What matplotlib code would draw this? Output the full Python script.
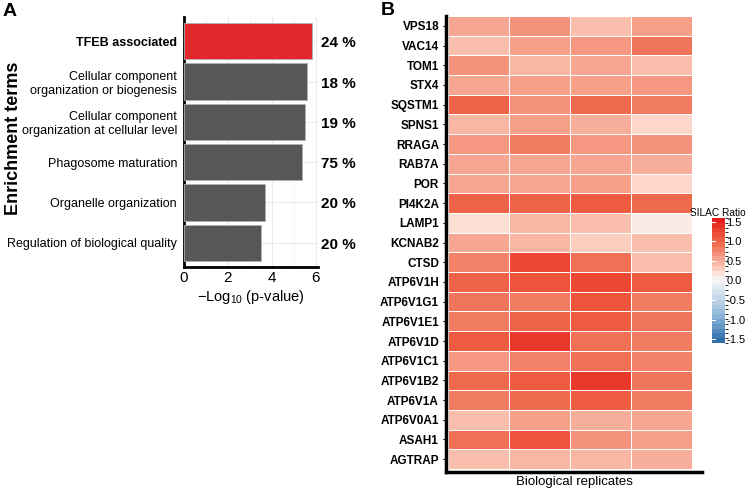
import numpy as np
import matplotlib
matplotlib.use("Agg")
import matplotlib.pyplot as plt
from matplotlib.colors import LinearSegmentedColormap, BoundaryNorm, Normalize
from matplotlib.cm import ScalarMappable
import matplotlib.transforms as mtransforms

plt.rcParams['font.family'] = ['Liberation Sans', 'DejaVu Sans']

# ---------------- Data ----------------
terms = ["TFEB associated",
         "Cellular component\norganization or biogenesis",
         "Cellular component\norganization at cellular level",
         "Phagosome maturation",
         "Organelle organization",
         "Regulation of biological quality"]
neglog10_p = [5.82, 5.59, 5.50, 5.38, 3.70, 3.50]
percent = [24, 18, 19, 75, 20, 20]

genes = ["VPS18", "VAC14", "TOM1", "STX4", "SQSTM1", "SPNS1", "RRAGA", "RAB7A",
         "POR", "PI4K2A", "LAMP1", "KCNAB2", "CTSD", "ATP6V1H", "ATP6V1G1",
         "ATP6V1E1", "ATP6V1D", "ATP6V1C1", "ATP6V1B2", "ATP6V1A", "ATP6V0A1",
         "ASAH1", "AGTRAP"]
rep1 = [0.55, 0.40, 0.70, 0.55, 1.05, 0.45, 0.65, 0.55, 0.55, 1.05, 0.20, 0.55,
        0.80, 1.05, 0.90, 0.85, 1.10, 0.65, 1.00, 0.85, 0.40, 0.95, 0.40]
rep2 = [0.70, 0.60, 0.45, 0.60, 0.70, 0.60, 0.85, 0.55, 0.55, 1.05, 0.45, 0.45,
        1.25, 1.15, 0.85, 1.05, 1.40, 0.80, 1.10, 1.00, 0.60, 1.15, 0.45]
rep3 = [0.40, 0.65, 0.55, 0.60, 1.00, 0.50, 0.65, 0.55, 0.60, 1.10, 0.40, 0.30,
        0.95, 1.25, 1.15, 1.10, 0.95, 0.95, 1.40, 1.10, 0.50, 0.70, 0.45]
rep4 = [0.60, 0.90, 0.40, 0.65, 0.85, 0.25, 0.70, 0.50, 0.25, 1.00, 0.10, 0.40,
        0.40, 1.10, 0.85, 0.90, 0.85, 0.80, 0.90, 0.85, 0.55, 0.60, 0.50]
cbar_ticks = [-1.5, -1.0, -0.5, 0.0, 0.5, 1.0, 1.5]

# ---------------- Figure ----------------
W, H = 750, 492
fig = plt.figure(figsize=(W / 100, H / 100), dpi=100)

def frac(x0, y0, x1, y1):
    return [x0 / W, 1 - y1 / H, (x1 - x0) / W, (y1 - y0) / H]

# ---------- Panel A ----------
ax1 = fig.add_axes(frac(184, 17, 318, 267))
ypos = np.arange(len(terms))
colors = ['#e2282a'] + ['#575757'] * (len(terms) - 1)
ax1.barh(ypos, neglog10_p, height=0.9, color=colors, edgecolor='#b0b0b0',
         linewidth=0.6, zorder=3)
ax1.set_xlim(0, 6.1)
ax1.set_ylim(len(terms) - 0.4, -0.6)
ax1.set_xticks([0, 2, 4, 6])
ax1.set_xticks([1, 3, 5], minor=True)
ax1.set_yticks(ypos)
ax1.set_yticklabels(terms, fontsize=9)
ax1.get_yticklabels()[0].set_fontweight('bold')
ax1.tick_params(axis='y', length=0, pad=5)
ax1.tick_params(axis='x', which='both', length=0, labelsize=11, pad=3)
ax1.grid(True, which='major', color='#ebebeb', linewidth=0.8, zorder=0)
ax1.grid(True, which='minor', axis='x', color='#f3f3f3', linewidth=0.6, zorder=0)
ax1.set_axisbelow(True)
for s in ['top', 'right']:
    ax1.spines[s].set_visible(False)
for s in ['left', 'bottom']:
    ax1.spines[s].set_linewidth(2)
    ax1.spines[s].set_color('black')
ax1.set_xlabel(r'$\mathregular{-Log_{10}}$ (p-value)', fontsize=10.5, labelpad=2)
trans = mtransforms.blended_transform_factory(ax1.transAxes, ax1.transData)
for y, p in zip(ypos, percent):
    ax1.text(1.0 + 3 / 134, y + 0.05, f"{p} %", transform=trans, ha='left',
             va='center', fontsize=11, fontweight='bold', clip_on=False)
fig.text(14 / W, 1 - 138 / H, 'Enrichment terms', rotation=90, ha='center',
         va='center', fontsize=13, fontweight='bold')
fig.text(3 / W, 1 - 3 / H, 'A', ha='left', va='top', fontsize=14, fontweight='bold')

# ---------- Panel B ----------
vmin, vmax = -1.6, 1.6
anchors = [(-1.6, '#2f6dab'), (-1.5, '#3b78b4'), (-1.0, '#86afd5'),
           (-0.5, '#c2d5e8'), (0.0, '#f7f7f7'), (0.2, '#fde0d5'),
           (0.4, '#f9bfad'), (0.6, '#f6a08a'), (0.8, '#f3836a'),
           (1.0, '#ef6a4d'), (1.2, '#ec4f38'), (1.4, '#e83a2a'),
           (1.6, '#e41a1c')]
cmap = LinearSegmentedColormap.from_list(
    'silac', [((v - vmin) / (vmax - vmin), c) for v, c in anchors])
norm = Normalize(vmin=vmin, vmax=vmax)

ax2 = fig.add_axes(frac(446, 16, 702, 472))
data = np.array([rep1, rep2, rep3, rep4]).T
ax2.pcolormesh(np.arange(5), np.arange(len(genes) + 1), data, cmap=cmap,
               norm=norm, edgecolor='white', linewidth=0.6)
ax2.set_xlim(-0.033, 4.16)
ax2.set_ylim(len(genes) + 0.15, 0)
ax2.set_yticks(np.arange(len(genes)) + 0.5)
ax2.set_yticklabels(genes, fontsize=8.5, fontweight='bold')
ax2.tick_params(axis='y', length=2, width=0.8, pad=3)
ax2.set_xticks([])
ax2.set_xlabel('Biological replicates', fontsize=9.5, labelpad=3)
for s in ['top', 'right']:
    ax2.spines[s].set_visible(False)
for s in ['left', 'bottom']:
    ax2.spines[s].set_linewidth(2.5)
    ax2.spines[s].set_color('black')
fig.text(381 / W, 1 - 2 / H, 'B', ha='left', va='top', fontsize=14, fontweight='bold')

# colorbar (stepped)
cax = fig.add_axes(frac(712, 218, 725, 343))
levels = np.linspace(vmin, vmax, 27)
sm = ScalarMappable(norm=BoundaryNorm(levels, cmap.N), cmap=cmap)
cb = fig.colorbar(sm, cax=cax, ticks=cbar_ticks)
cb.outline.set_visible(False)
cb.ax.set_yticklabels([f"{t:.1f}" for t in cbar_ticks], fontsize=8)
cb.ax.tick_params(length=0, pad=1)
btrans = mtransforms.blended_transform_factory(cax.transAxes, cax.transData)
for t in cbar_ticks:
    cax.plot([0, 0.25], [t, t], color='white', lw=0.8, transform=btrans)
fig.text(690 / W, 1 - 213 / H, 'SILAC Ratio', ha='left', va='center', fontsize=7.3)

fig.savefig('out.png', dpi=100)
